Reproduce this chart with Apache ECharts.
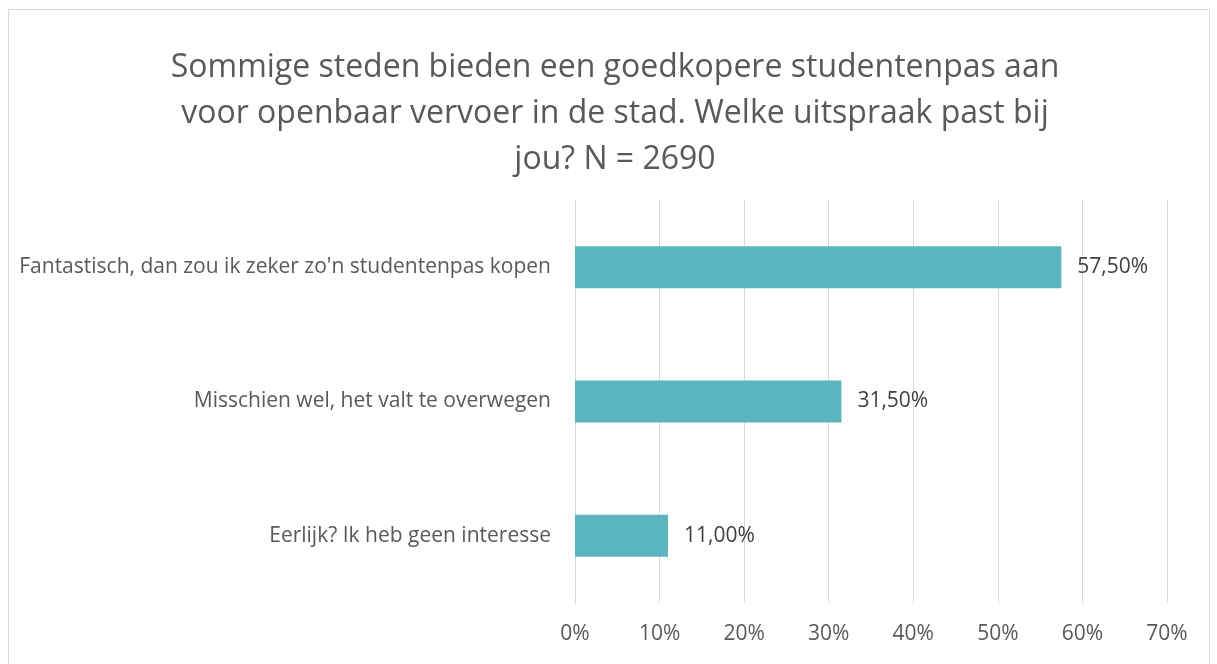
<!DOCTYPE html>
<html>
<head>
<meta charset="utf-8">
<script src="https://cdn.jsdelivr.net/npm/echarts@6.0.0/dist/echarts.min.js"></script>
<style>
  html, body { margin: 0; padding: 0; background: #fff; }
  #chart { width: 1217px; height: 664px; }
</style>
</head>
<body>
<div id="chart"></div>
<script>
// Data
const titleText = 'Sommige steden bieden een goedkopere studentenpas aan\nvoor openbaar vervoer in de stad. Welke uitspraak past bij\njou? N = 2690';
const answers = [
    'Fantastisch, dan zou ik zeker zo\'n studentenpas kopen',
    'Misschien wel, het valt te overwegen',
    'Eerlijk? Ik heb geen interesse'
];
const shares = [57.5, 31.5, 11.0];
const axisTicks = [0, 10, 20, 30, 40, 50, 60, 70];

const FONT = '"Open Sans", sans-serif';

const chart = echarts.init(document.getElementById('chart'), null, { renderer: 'canvas' });

chart.setOption({
    backgroundColor: '#ffffff',
    animation: false,
    title: {
        text: titleText,
        left: 610,
        textAlign: 'center',
        top: 40,
        textStyle: { color: '#595959', fontSize: 32, fontWeight: 'normal', fontFamily: FONT, lineHeight: 46 },
    },
    graphic: [{
        type: 'rect',
        shape: { x: 8.5, y: 9.5, width: 1201, height: 700 },
        style: { fill: 'none', stroke: '#d9d9d9', lineWidth: 1 },
        silent: true,
    }],
    grid: { left: 575, right: 50, top: 200, bottom: 61, containLabel: false },
    xAxis: {
        type: 'value',
        min: axisTicks[0],
        max: axisTicks[axisTicks.length - 1],
        interval: 10,
        axisLine: { show: false },
        axisTick: { show: false },
        axisLabel: {
            formatter: '{value}%', color: '#595959', fontSize: 21, fontFamily: FONT, margin: 21,
        },
        splitLine: { lineStyle: { color: '#d9d9d9', width: 1 } },
    },
    yAxis: {
        type: 'category',
        inverse: true,
        data: answers,
        axisLine: { show: true, lineStyle: { color: '#d9d9d9' } },
        axisTick: { show: false },
        axisLabel: { color: '#595959', fontSize: 21, fontFamily: FONT, margin: 24 },
    },
    series: [{
        type: 'bar',
        data: shares,
        barWidth: 42,
        itemStyle: { color: '#5bb5c0' },
        label: {
            show: true,
            position: 'right',
            distance: 16,
            color: '#404040',
            fontSize: 21,
            fontFamily: FONT,
            formatter: p => p.value.toFixed(2).replace('.', ',') + '%',
        },
    }],
});
</script>
</body>
</html>
